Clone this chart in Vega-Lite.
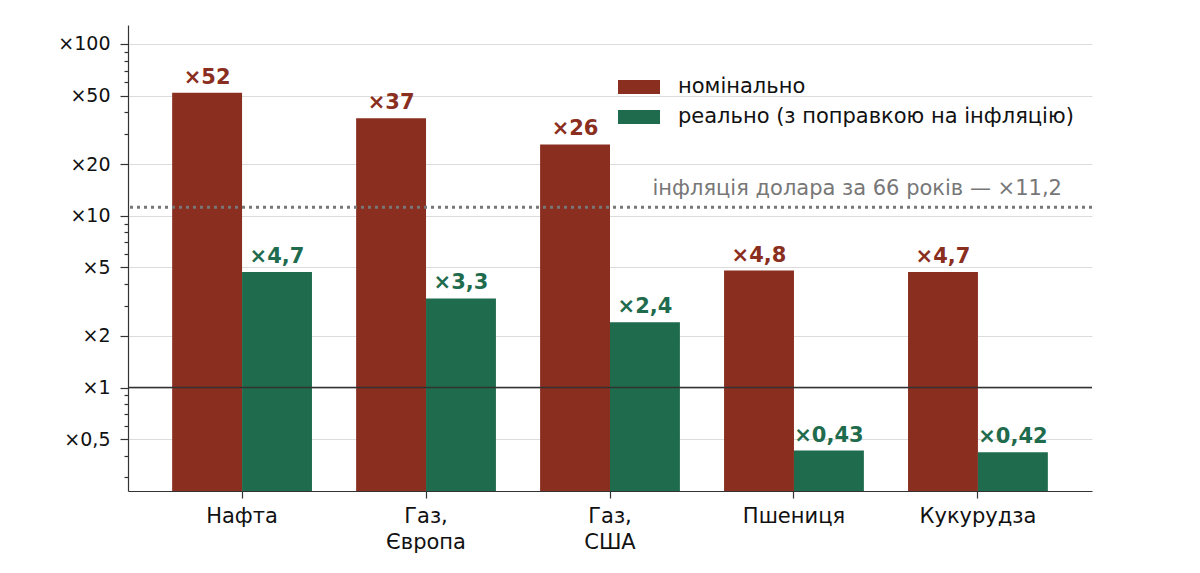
{
  "$schema": "https://vega.github.io/schema/vega-lite/v6.json",
  "width": 964,
  "height": 466,
  "autosize": {"type": "none"},
  "padding": {"left": 128, "top": 25, "right": 108, "bottom": 82},
  "config": {"view": {"stroke": null}, "font": "DejaVu Sans"},
  "data": {
    "values": [
      {"cat": "Нафта", "series": "номінально", "value": 52, "label": "×52"},
      {"cat": "Нафта", "series": "реально (з поправкою на інфляцію)", "value": 4.7, "label": "×4,7"},
      {"cat": "Газ,\nЄвропа", "series": "номінально", "value": 37, "label": "×37"},
      {"cat": "Газ,\nЄвропа", "series": "реально (з поправкою на інфляцію)", "value": 3.3, "label": "×3,3"},
      {"cat": "Газ,\nСША", "series": "номінально", "value": 26, "label": "×26"},
      {"cat": "Газ,\nСША", "series": "реально (з поправкою на інфляцію)", "value": 2.4, "label": "×2,4"},
      {"cat": "Пшениця", "series": "номінально", "value": 4.8, "label": "×4,8"},
      {"cat": "Пшениця", "series": "реально (з поправкою на інфляцію)", "value": 0.43, "label": "×0,43"},
      {"cat": "Кукурудза", "series": "номінально", "value": 4.7, "label": "×4,7"},
      {"cat": "Кукурудза", "series": "реально (з поправкою на інфляцію)", "value": 0.42, "label": "×0,42"}
    ]
  },
  "layer": [
    {
      "mark": {"type": "bar"},
      "encoding": {
        "x": {
          "field": "cat", "type": "nominal", "sort": null,
          "scale": {"paddingInner": 0.24, "paddingOuter": 0.24},
          "axis": {
            "title": null, "labelAngle": 0,
            "labelExpr": "split(datum.label, '\\n')",
            "labelFontSize": 21, "labelColor": "#111", "labelLineHeight": 26,
            "tickSize": 7, "tickColor": "#333", "tickWidth": 1.2,
            "domainColor": "#333", "domainWidth": 1.2,
            "labelPadding": 7, "grid": false
          }
        },
        "xOffset": {
          "field": "series", "type": "nominal",
          "scale": {"domain": ["номінально", "реально (з поправкою на інфляцію)"], "paddingInner": 0, "paddingOuter": 0}
        },
        "y": {
          "field": "value", "type": "quantitative",
          "scale": {"type": "log", "domain": [0.25, 129], "nice": false},
          "axis": {
            "title": null,
            "values": [0.3, 0.4, 0.5, 0.6, 0.7, 0.8, 0.9, 1, 2, 3, 4, 5, 6, 7, 8, 9, 10, 20, 30, 40, 50, 60, 70, 80, 90, 100],
            "labelExpr": "indexof([0.5, 1, 2, 5, 10, 20, 50, 100], datum.value) >= 0 ? '×' + replace(format(datum.value, '~g'), '.', ',') : ''",
            "tickSize": {"condition": {"test": "indexof([0.5, 1, 2, 5, 10, 20, 50, 100], datum.value) >= 0", "value": 8}, "value": 4},
            "gridOpacity": {"condition": {"test": "indexof([0.5, 1, 2, 5, 10, 20, 50, 100], datum.value) >= 0", "value": 1}, "value": 0},
            "gridColor": "#dcdcdc",
            "domainColor": "#333", "domainWidth": 1.2,
            "tickColor": "#333", "tickWidth": 1.2,
            "labelFontSize": 19, "labelColor": "#111", "labelPadding": 10,
            "labelFlush": false, "labelOverlap": false
          }
        },
        "y2": {"datum": 0.25},
        "color": {
          "field": "series", "type": "nominal",
          "scale": {"domain": ["номінально", "реально (з поправкою на інфляцію)"], "range": ["#8a2e20", "#1f6b4d"]},
          "legend": {
            "title": null, "orient": "none", "legendX": 497, "legendY": 48,
            "symbolType": "M-1.5,-0.5H1.5V0.5H-1.5Z", "symbolSize": 784,
            "symbolStrokeWidth": 0, "symbolOpacity": 1,
            "labelFontSize": 21, "labelColor": "#111", "labelOffset": 25, "labelLimit": 0,
            "rowPadding": 6, "padding": 0
          }
        }
      }
    },
    {
      "mark": {"type": "text", "fontWeight": "bold", "fontSize": 21, "baseline": "alphabetic", "dy": -9},
      "encoding": {
        "x": {"field": "cat", "type": "nominal", "sort": null},
        "xOffset": {"field": "series", "type": "nominal"},
        "y": {"field": "value", "type": "quantitative"},
        "text": {"field": "label"},
        "color": {"field": "series", "type": "nominal", "legend": null}
      }
    },
    {
      "data": {"values": [{}]},
      "mark": {"type": "rule", "color": "#333", "strokeWidth": 1.5},
      "encoding": {"y": {"datum": 1, "type": "quantitative"}}
    },
    {
      "data": {"values": [{}]},
      "mark": {"type": "rule", "color": "#777", "strokeWidth": 3, "strokeDash": [3, 4]},
      "encoding": {"y": {"datum": 11.2, "type": "quantitative"}}
    },
    {
      "data": {"values": [{"t": "інфляція долара за 66 років — ×11,2"}]},
      "mark": {"type": "text", "align": "right", "baseline": "alphabetic", "dx": 84, "dy": -12, "fontSize": 21, "color": "#777"},
      "encoding": {
        "x": {"datum": "Кукурудза", "type": "nominal"},
        "y": {"datum": 11.2, "type": "quantitative"},
        "text": {"field": "t"}
      }
    }
  ]
}
